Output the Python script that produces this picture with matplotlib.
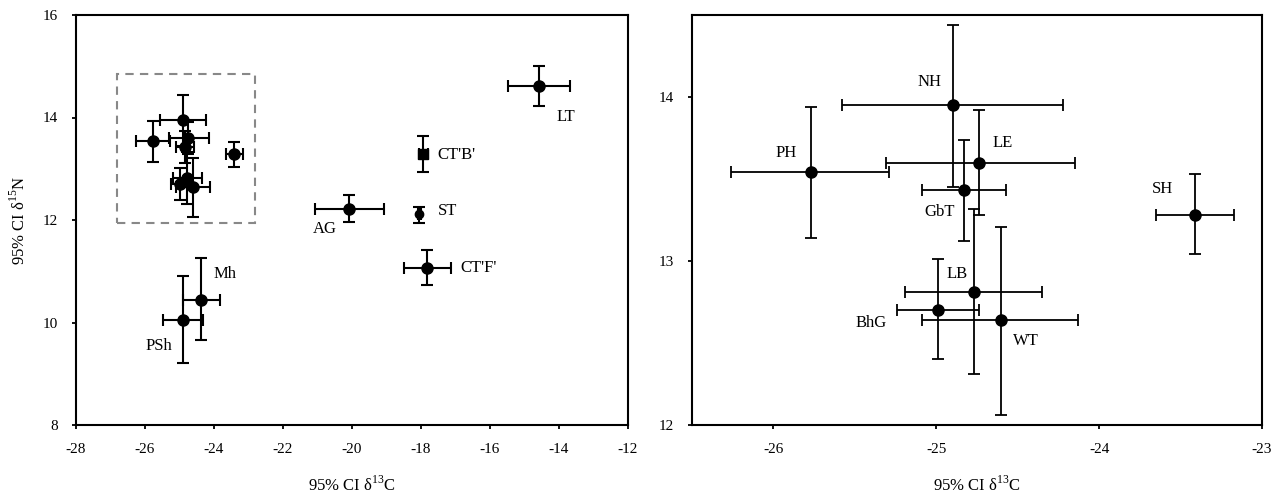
import matplotlib
matplotlib.use("Agg")
import matplotlib.pyplot as plt
from matplotlib.patches import Rectangle

plt.rcParams['font.family'] = ['Liberation Serif', 'DejaVu Serif']
plt.rcParams['mathtext.fontset'] = 'custom'
plt.rcParams['mathtext.rm'] = 'Liberation Serif'
plt.rcParams['axes.unicode_minus'] = False

# cluster species (shown in both panels, labelled in the zoom panel)
zoom_names = ["NH", "PH", "LE", "GbT", "SH", "LB", "BhG", "WT"]
zoom_c = [-24.90, -25.77, -24.74, -24.83, -23.41, -24.77, -24.99, -24.60]
zoom_n = [13.95, 13.54, 13.60, 13.43, 13.28, 12.81, 12.70, 12.64]
zoom_c_lo = [-25.58, -26.26, -25.31, -25.09, -23.65, -25.19, -25.24, -25.09]
zoom_c_hi = [-24.22, -25.29, -24.15, -24.57, -23.17, -24.35, -24.74, -24.13]
zoom_n_lo = [13.45, 13.14, 13.28, 13.12, 13.04, 12.31, 12.40, 12.06]
zoom_n_hi = [14.44, 13.94, 13.92, 13.74, 13.53, 13.32, 13.01, 13.21]
zoom_lab_x = [-25.04, -25.92, -24.59, -24.98, -23.61, -24.87, -25.40, -24.45]
zoom_lab_y = [14.09, 13.66, 13.72, 13.30, 13.44, 12.92, 12.62, 12.51]

# other species, left panel only
names = ["LT", "CT'B'", "ST", "CT'F'", "AG", "Mh", "PSh"]
c13 = [-14.58, -17.93, -18.05, -17.82, -20.08, -24.38, -24.90]
n15 = [14.62, 13.28, 12.11, 11.07, 12.22, 10.44, 10.05]
c_lo = [-15.47, -18.05, -18.10, -18.50, -21.06, -24.89, -25.47]
c_hi = [-13.69, -17.81, -18.00, -17.13, -19.08, -23.84, -24.32]
n_lo = [14.22, 12.94, 11.94, 10.73, 11.96, 9.66, 9.21]
n_hi = [15.01, 13.64, 12.26, 11.42, 12.48, 11.25, 10.90]
lab_x = [-13.80, -16.98, -17.22, -16.33, -20.80, -23.69, -25.59]
lab_y = [14.01, 13.27, 12.18, 11.07, 11.82, 10.95, 9.55]
markers = ["o", "s", "o", "o", "o", "o", "o"]
msizes = [8, 7, 6, 8, 8, 8, 8]

# dashed box around the cluster
box_c = [-26.8, -22.8]
box_n = [11.95, 14.85]

xlabel = "95% CI δ$^{\\mathrm{13}}$C"
ylabel = "95% CI δ$^{\\mathrm{15}}$N"


def errs(v, lo, hi):
    return [[a - b for a, b in zip(v, lo)], [b - a for a, b in zip(v, hi)]]


fig = plt.figure(figsize=(12.82, 5.0), dpi=100)
ax1 = fig.add_axes([0.0593, 0.15, 0.4306, 0.82])
ax2 = fig.add_axes([0.5398, 0.15, 0.4446, 0.82])

# left panel
ax1.errorbar(zoom_c, zoom_n, xerr=errs(zoom_c, zoom_c_lo, zoom_c_hi),
             yerr=errs(zoom_n, zoom_n_lo, zoom_n_hi), fmt="o", color="black",
             ms=8, elinewidth=1.5, capsize=4, capthick=1.5)
for i in range(len(names)):
    ax1.errorbar([c13[i]], [n15[i]], xerr=errs([c13[i]], [c_lo[i]], [c_hi[i]]),
                 yerr=errs([n15[i]], [n_lo[i]], [n_hi[i]]), fmt=markers[i],
                 color="black", ms=msizes[i], elinewidth=1.5, capsize=4, capthick=1.5)
    ax1.text(lab_x[i], lab_y[i], names[i], fontsize=12, ha="center", va="center")
ax1.add_patch(Rectangle((box_c[0], box_n[0]), box_c[1] - box_c[0], box_n[1] - box_n[0],
                        fill=False, ls=(0, (4, 3)), lw=1.5, ec="#888888"))
ax1.set_xlim(-28, -12)
ax1.set_ylim(8, 16)
ax1.set_xticks(range(-28, -11, 2))
ax1.set_yticks(range(8, 17, 2))

# right panel (zoom)
ax2.errorbar(zoom_c, zoom_n, xerr=errs(zoom_c, zoom_c_lo, zoom_c_hi),
             yerr=errs(zoom_n, zoom_n_lo, zoom_n_hi), fmt="o", color="black",
             ms=8, elinewidth=1.3, capsize=4, capthick=1.3)
for i in range(len(zoom_names)):
    ax2.text(zoom_lab_x[i], zoom_lab_y[i], zoom_names[i], fontsize=12,
             ha="center", va="center")
ax2.set_xlim(-26.5, -23)
ax2.set_ylim(12, 14.5)
ax2.set_xticks([-26, -25, -24, -23])
ax2.set_yticks([12, 13, 14])

for ax in (ax1, ax2):
    ax.set_xlabel(xlabel, fontsize=12, labelpad=14)
    for s in ax.spines.values():
        s.set_linewidth(1.5)
    ax.tick_params(direction="out", labelsize=11, width=1.3, length=3, pad=10)
ax1.set_ylabel(ylabel, fontsize=12, labelpad=10)

fig.savefig("out.png", dpi=100)
